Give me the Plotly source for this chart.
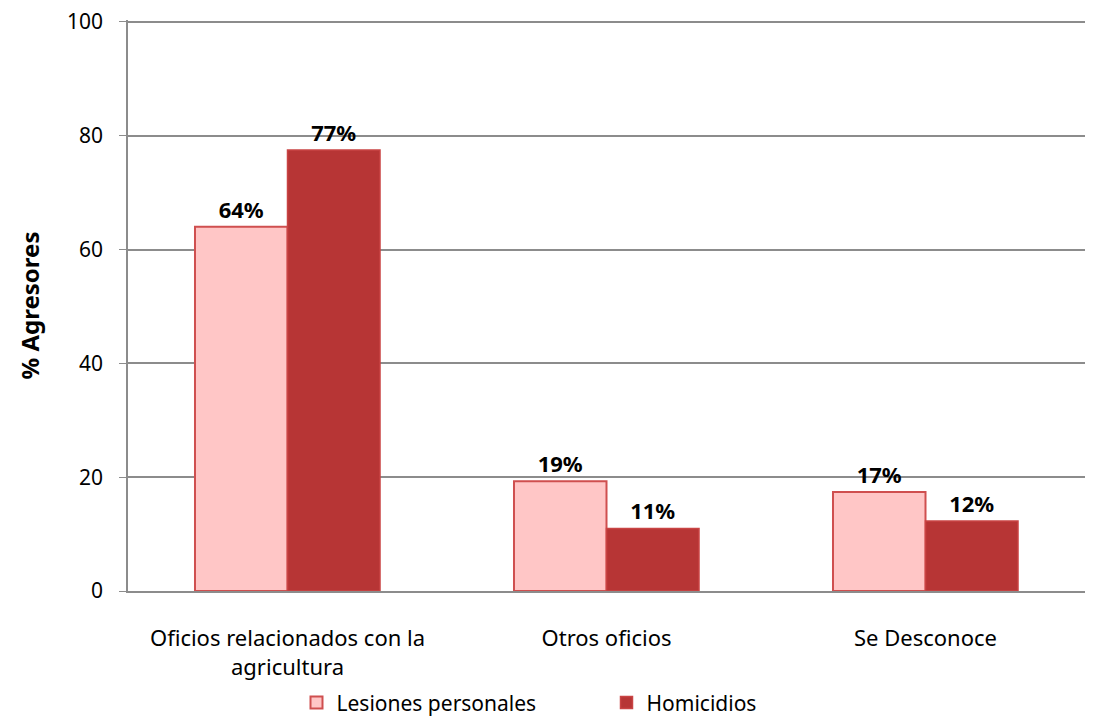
import plotly.graph_objects as go

categories = ["Oficios relacionados con la<br>agricultura", "Otros oficios", "Se Desconoce"]
lesiones = [64.0, 19.3, 17.4]
homicidios = [77.5, 11.0, 12.3]
lesiones_labels = ["64%", "19%", "17%"]
homicidios_labels = ["77%", "11%", "12%"]
y_ticks = [0, 20, 40, 60, 80, 100]

FONT = "Noto Sans"

fig = go.Figure()
fig.add_trace(go.Bar(
    name="Lesiones personales", x=categories, y=lesiones,
    text=lesiones_labels, textposition="outside", cliponaxis=False,
    textfont=dict(family=FONT, size=22, color="black", weight="bold"),
    marker=dict(color="#FFC6C6", line=dict(color="#CF4F4F", width=2)),
))
fig.add_trace(go.Bar(
    name="Homicidios", x=categories, y=homicidios,
    text=homicidios_labels, textposition="outside", cliponaxis=False,
    textfont=dict(family=FONT, size=22, color="black", weight="bold"),
    marker=dict(color="#B73535", line=dict(color="#C94444", width=1.5)),
))

fig.update_layout(
    width=1095, height=717,
    margin=dict(l=128, r=10, t=20, b=126, autoexpand=False),
    paper_bgcolor="white", plot_bgcolor="white",
    barmode="group", bargap=0.42, bargroupgap=0,
    font=dict(family=FONT, size=21, color="black"),
    legend=dict(orientation="h", x=0.5, xanchor="center", y=-0.16, yanchor="top",
                font=dict(family=FONT, size=21), traceorder="normal",
                itemwidth=30, entrywidth=265, entrywidthmode="pixels"),
    showlegend=True,
)
fig.update_yaxes(
    range=[0, 100.35], tickvals=y_ticks, showgrid=True, gridcolor="#8C8C8C", gridwidth=1.5,
    showline=True, linecolor="#8C8C8C", linewidth=1.5, ticks="outside", ticklen=7,
    tickcolor="#8C8C8C", tickfont=dict(family=FONT, size=21), ticklabelstandoff=12,
    title=dict(text="% Agresores", font=dict(family=FONT, size=24, weight="bold"), standoff=21),
    zeroline=False, automargin=False,
)
fig.update_xaxes(
    showline=True, linecolor="#8C8C8C", linewidth=1.5, ticks="",
    tickfont=dict(family=FONT, size=22), ticklabelstandoff=27, automargin=False,
)
fig.write_html(
    "out.html",
    config={"displayModeBar": False},
    post_script="document.body.style.margin='0';document.body.style.overflow='hidden';",
)
